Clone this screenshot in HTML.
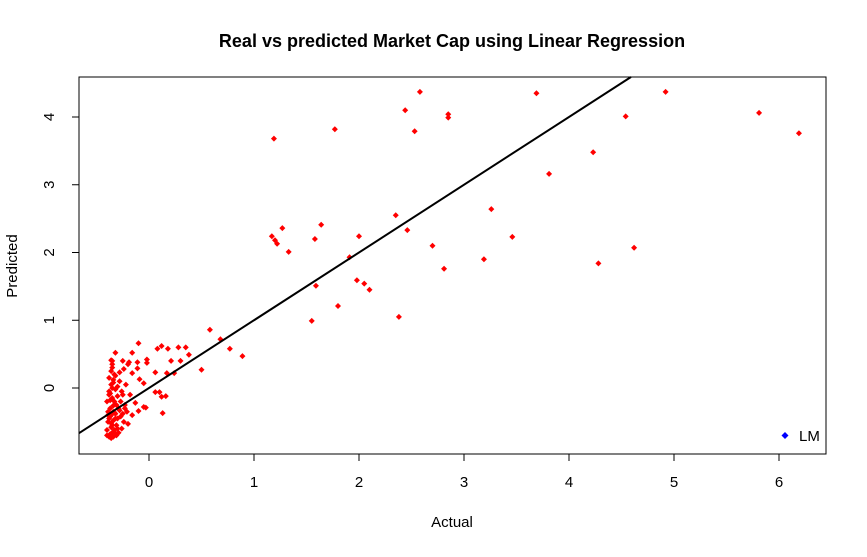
<!DOCTYPE html>
<html><head><meta charset="utf-8"><style>
body{margin:0;background:#fff}
text{font-family:"Liberation Sans",sans-serif;fill:#000}
</style></head><body>
<svg id="chart" width="867" height="552" xmlns="http://www.w3.org/2000/svg">
<text x="452" y="47" text-anchor="middle" font-size="18" font-weight="bold">Real vs predicted Market Cap using Linear Regression</text>
<rect x="79" y="77" width="747" height="377" fill="none" stroke="#000" stroke-width="1"/>
<g id="xt"></g>
<g id="yt"></g>
<text x="452" y="527" text-anchor="middle" font-size="15">Actual</text>
<text transform="translate(17,266) rotate(-90)" text-anchor="middle" font-size="15">Predicted</text>
<g id="pts"></g>
<line id="fit" stroke="#000" stroke-width="2"/>
<g>
<path d="M785,432 L788.5,435.5 L785,439 L781.5,435.5Z" fill="#0000ff"/>
<text x="799" y="441" font-size="15">LM</text>
</g>
</svg>
<script>
const xTicks=[0,1,2,3,4,5,6];
const yTicks=[0,1,2,3,4];
const actual=[1.19,1.77,2.44,2.58,2.53,2.85,2.85,3.69,4.54,4.92,5.81,6.19,4.23,3.81,3.26,2.35,2.46,3.46,1.17,1.22,1.20,1.27,1.64,1.58,1.33,2.0,1.91,2.70,3.19,4.62,4.28,2.81,1.98,2.05,2.10,1.59,1.80,1.55,2.38,0.58,0.68,0.77,0.89,0.50,
-0.10,-0.32,-0.16,0.08,0.12,0.18,0.28,0.35,0.38,-0.02,0.21,0.30,-0.25,-0.19,-0.36,-0.11,-0.02,-0.20,-0.11,-0.35,-0.24,-0.28,-0.16,0.06,0.17,0.24,-0.09,-0.05,0.06,0.10,0.12,0.16,-0.13,-0.10,-0.05,-0.03,0.13,-0.16,-0.20,
-0.38,-0.36,-0.34,-0.32,-0.30,-0.38,-0.35,-0.33,-0.31,-0.37,-0.34,-0.36,-0.32,-0.39,-0.35,-0.29,-0.27,-0.25,-0.22,-0.28,-0.26,-0.23,-0.21,-0.18,-0.30,-0.33,-0.37,-0.40,-0.38,-0.36,-0.34,-0.31,-0.29,-0.26,-0.24,-0.35,-0.33,-0.38,-0.36,-0.40,-0.37,-0.34,-0.32,-0.30,-0.28,-0.35,-0.39,-0.36,-0.33,-0.31,-0.37,-0.35,-0.34,-0.27,-0.25,-0.23,-0.30,-0.32,-0.38,-0.36,-0.40,-0.34,-0.37,-0.35,-0.33,-0.39];
const predicted=[3.68,3.82,4.10,4.37,3.79,4.04,3.99,4.35,4.01,4.37,4.06,3.76,3.48,3.16,2.64,2.55,2.33,2.23,2.24,2.13,2.18,2.36,2.41,2.20,2.01,2.24,1.93,2.10,1.90,2.07,1.84,1.76,1.59,1.54,1.45,1.51,1.21,0.99,1.05,0.86,0.72,0.58,0.47,0.27,
0.66,0.52,0.52,0.58,0.62,0.58,0.60,0.60,0.49,0.42,0.40,0.40,0.40,0.38,0.41,0.38,0.37,0.35,0.29,0.35,0.28,0.23,0.22,0.23,0.22,0.22,0.13,0.07,-0.06,-0.06,-0.13,-0.12,-0.22,-0.34,-0.28,-0.29,-0.37,-0.40,-0.53,
-0.05,0.05,0.12,0.18,0.02,-0.10,-0.15,-0.20,-0.25,-0.30,-0.35,-0.40,-0.45,-0.50,-0.55,-0.30,-0.20,-0.10,0.05,0.10,-0.05,-0.25,-0.35,-0.10,-0.60,-0.65,-0.68,-0.70,-0.72,-0.74,-0.72,-0.70,-0.66,-0.60,-0.50,0.30,0.20,0.15,0.25,-0.20,-0.42,-0.48,-0.38,-0.45,-0.33,0.40,-0.35,-0.58,-0.62,-0.55,-0.08,0.00,0.08,-0.42,-0.38,-0.30,-0.12,-0.02,-0.45,-0.52,-0.62,-0.26,-0.18,-0.66,-0.36,-0.40];
const X=v=>149+v*105, Y=v=>388-v*67.75;
const NS="http://www.w3.org/2000/svg";
const xt=document.getElementById('xt'), yt=document.getElementById('yt');
xTicks.forEach(t=>{
 const l=document.createElementNS(NS,'line');
 
 
 l.setAttribute('x1',X(t));l.setAttribute('x2',X(t));l.setAttribute('y1',454);l.setAttribute('y2',461);l.setAttribute('stroke','#000');
 xt.appendChild(l);
 const s=document.createElementNS(NS,'text');
 
 
 s.setAttribute('x',X(t));s.setAttribute('y',487);s.setAttribute('text-anchor','middle');s.setAttribute('font-size','15');
 s.textContent=t;xt.appendChild(s);
});
const xl=document.createElementNS(NS,'line');


xl.setAttribute('x1',X(0));xl.setAttribute('x2',X(6));xl.setAttribute('y1',454);xl.setAttribute('y2',454);xl.setAttribute('stroke','#000');
xt.appendChild(xl);
yTicks.forEach(t=>{
 const l=document.createElementNS(NS,'line');
 
 
 l.setAttribute('x1',72);l.setAttribute('x2',79);l.setAttribute('y1',Y(t));l.setAttribute('y2',Y(t));l.setAttribute('stroke','#000');
 yt.appendChild(l);
 const s=document.createElementNS(NS,'text');
 
 
 s.setAttribute('transform',`translate(54,${Y(t)}) rotate(-90)`);s.setAttribute('text-anchor','middle');s.setAttribute('font-size','15');
 s.textContent=t;yt.appendChild(s);
});
const pts=document.getElementById('pts');
actual.forEach((a,i)=>{
 const x=X(a),y=Y(predicted[i]);
 const p=document.createElementNS(NS,'path');
 
 
 p.setAttribute('d',`M${x},${y-3}L${x+3},${y}L${x},${y+3}L${x-3},${y}Z`);p.setAttribute('fill','#ff0000');
 pts.appendChild(p);
});
// fit line y = x clipped to plot
const f=document.getElementById('fit');
const x0=-0.667, x1=4.59;
f.setAttribute('x1',X(x0));f.setAttribute('y1',Y(x0));f.setAttribute('x2',X(x1));f.setAttribute('y2',Y(x1));
</script>
</body></html>
